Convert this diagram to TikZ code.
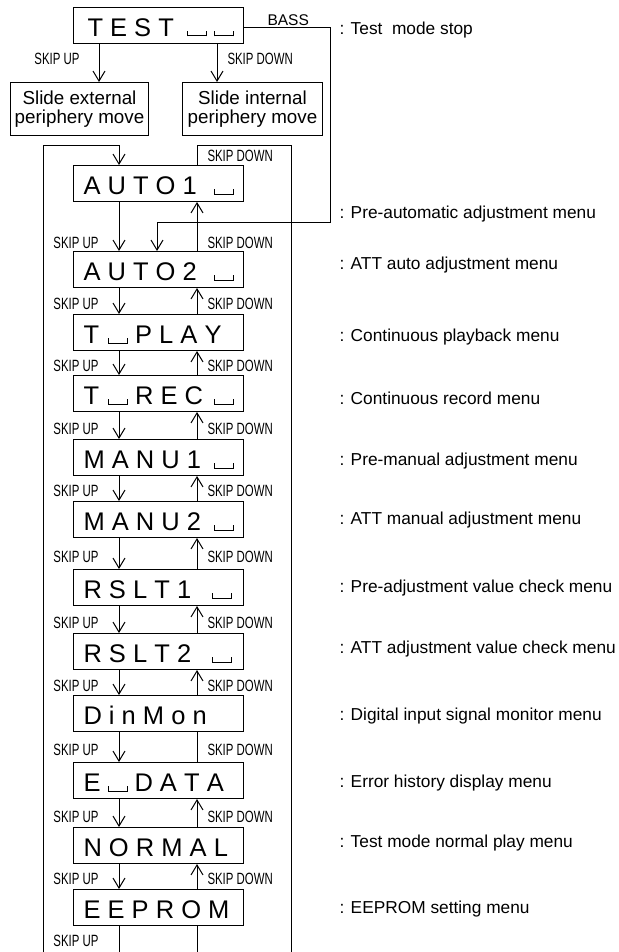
\documentclass[tikz,border=0pt]{standalone}
\usepackage{fontspec}
\setmainfont{Liberation Sans}
\newfontfamily\narrowfont[FakeStretch=0.7]{Liberation Sans}
\usetikzlibrary{arrows.meta}
\newcommand\blankbox{\hbox{\vrule width 1pt height 5.5pt\vrule width 18pt height 1pt\vrule width 1pt height 5.5pt}}
\newcommand\disp[1]{\makebox[150pt][l]{#1}}
\begin{document}
\begin{tikzpicture}[x=1pt,y=-1pt,line width=1pt,
  menu/.style={draw,rectangle,anchor=north west,minimum width=170pt,minimum height=36pt,
    inner xsep=10pt,inner ysep=7pt,text height=22pt,text depth=0pt,
    font=\fontsize{25.5}{28}\selectfont},
  slide/.style={draw,rectangle,anchor=north west,minimum height=53pt,align=center,
    inner sep=0pt,font=\fontsize{18.8}{19.5}\selectfont},
  arr/.style={-{Straight Barb[length=10pt,width=12pt]}},
  sk/.style={inner sep=0pt,font=\narrowfont\fontsize{16.3}{18}\selectfont},
  desc/.style={inner sep=0pt,anchor=base west,font=\fontsize{17.3}{20}\selectfont},
]
\useasboundingbox (0,0) rectangle (618,952);

% menu boxes
\node[menu] (test)   at (73,7)   {\disp{\hspace{4pt}T E S T\hfill\blankbox\hspace{7pt}\blankbox}};
\node[menu] (auto1)  at (73,165) {\disp{A U T O 1\hfill\blankbox}};
\node[menu] (auto2)  at (73,251) {\disp{A U T O 2\hfill\blankbox}};
\node[menu] (tplay)  at (73,314) {\disp{T\hspace{9pt}\blankbox\hspace{7pt}P L A Y}};
\node[menu] (trec)   at (73,375) {\disp{T\hspace{9pt}\blankbox\hspace{7pt}R E C\hfill\blankbox}};
\node[menu] (manu1)  at (73,439) {\disp{M A N U 1\hfill\blankbox}};
\node[menu] (manu2)  at (73,501) {\disp{M A N U 2\hfill\blankbox}};
\node[menu] (rslt1)  at (73,569) {\disp{R S L T 1\hfill\blankbox\hspace{2pt}}};
\node[menu] (rslt2)  at (73,633) {\disp{R S L T 2\hfill\blankbox\hspace{2pt}}};
\node[menu] (dinmon) at (73,695) {\disp{D i n M o n}};
\node[menu] (edata)  at (73,762) {\disp{E\hspace{7pt}\blankbox\hspace{7pt}D A T A}};
\node[menu] (normal) at (73,827) {\disp{N O R M A L}};
\node[menu] (eeprom) at (73,889) {\disp{E E P R O M}};

% slide boxes
\node[slide,minimum width=138pt] (ext) at (10,82)  {Slide external\\periphery move};
\node[slide,minimum width=140pt] (int) at (182,82) {Slide internal\\periphery move};

% columns and corners
\coordinate (cE) at (99,0);
\coordinate (cI) at (217,0);
\coordinate (cU) at (119,0);
\coordinate (cD) at (197,0);
\coordinate (bot) at (0,952);
\coordinate (lb) at (43,952);
\coordinate (lt) at (43,146);
\coordinate (rt) at (291,146);
\coordinate (rb) at (291,952);
\coordinate (bs1) at (330,28);
\coordinate (bs2) at (330,222);
\coordinate (bsx) at (157,0);

% TEST branches
\draw[arr] (test.south -| cE) -- (ext.north -| cE);
\draw[arr] (test.south -| cI) -- (int.north -| cI);
\draw[arr] (test.east |- bs1) -- (bs1) -- (bs2) -- (bs2 -| bsx) -- (auto2.north -| bsx);

% chain
\foreach \a/\b in {auto1/auto2,auto2/tplay,tplay/trec,trec/manu1,manu1/manu2,manu2/rslt1,
                   rslt1/rslt2,rslt2/dinmon,edata/normal,normal/eeprom}{
  \draw[arr] (\a.south -| cU) -- (\b.north -| cU);
  \draw[arr] (\b.north -| cD) -- (\a.south -| cD);
}
\draw[arr] (dinmon.south -| cU) -- (edata.north -| cU);
\draw (edata.north -| cD) -- (dinmon.south -| cD);

% bottom and loops
\draw (eeprom.south -| cU) -- (cU |- bot);
\draw (eeprom.south -| cD) -- (cD |- bot);
\draw[arr] (lb) -- (lt) -- (lt -| cU) -- (auto1.north -| cU);
\draw (auto1.north -| cD) -- (rt -| cD) -- (rt) -- (rb);

% labels
\node[inner sep=0pt,anchor=base west,font=\fontsize{15.5}{18}\selectfont] (bass) at (267,25.5) {BASS};
\node[sk,anchor=base east] (su0) at (80,65) {SKIP UP};
\node[sk,anchor=base west] (sd0) at (227,65) {SKIP DOWN};
\node[sk,anchor=base west] (sdl) at (207,162) {SKIP DOWN};
\foreach \y [count=\i] in {248,309,371,434,496,562,628,691,755,822,884}{
  \node[sk,anchor=base east] (su\i) at (99,\y) {SKIP UP};
  \node[sk,anchor=base west] (sd\i) at (207,\y) {SKIP DOWN};
}
\node[sk,anchor=base east] (su12) at (99,946) {SKIP UP};

% descriptions
\node[desc] (d0) at (339,35) {: Test~ mode stop};
\foreach \y/\t [count=\i] in {218/Pre-automatic adjustment menu,
  269/ATT auto adjustment menu,
  341/Continuous playback menu,
  404/Continuous record menu,
  465/Pre-manual adjustment menu,
  524/ATT manual adjustment menu,
  592/Pre-adjustment value check menu,
  653/ATT adjustment value check menu,
  720/Digital input signal monitor menu,
  787/Error history display menu,
  847/Test mode normal play menu,
  913/EEPROM setting menu}{
  \node[desc] (d\i) at (339,\y) {: \t};
}
\end{tikzpicture}
\end{document}
